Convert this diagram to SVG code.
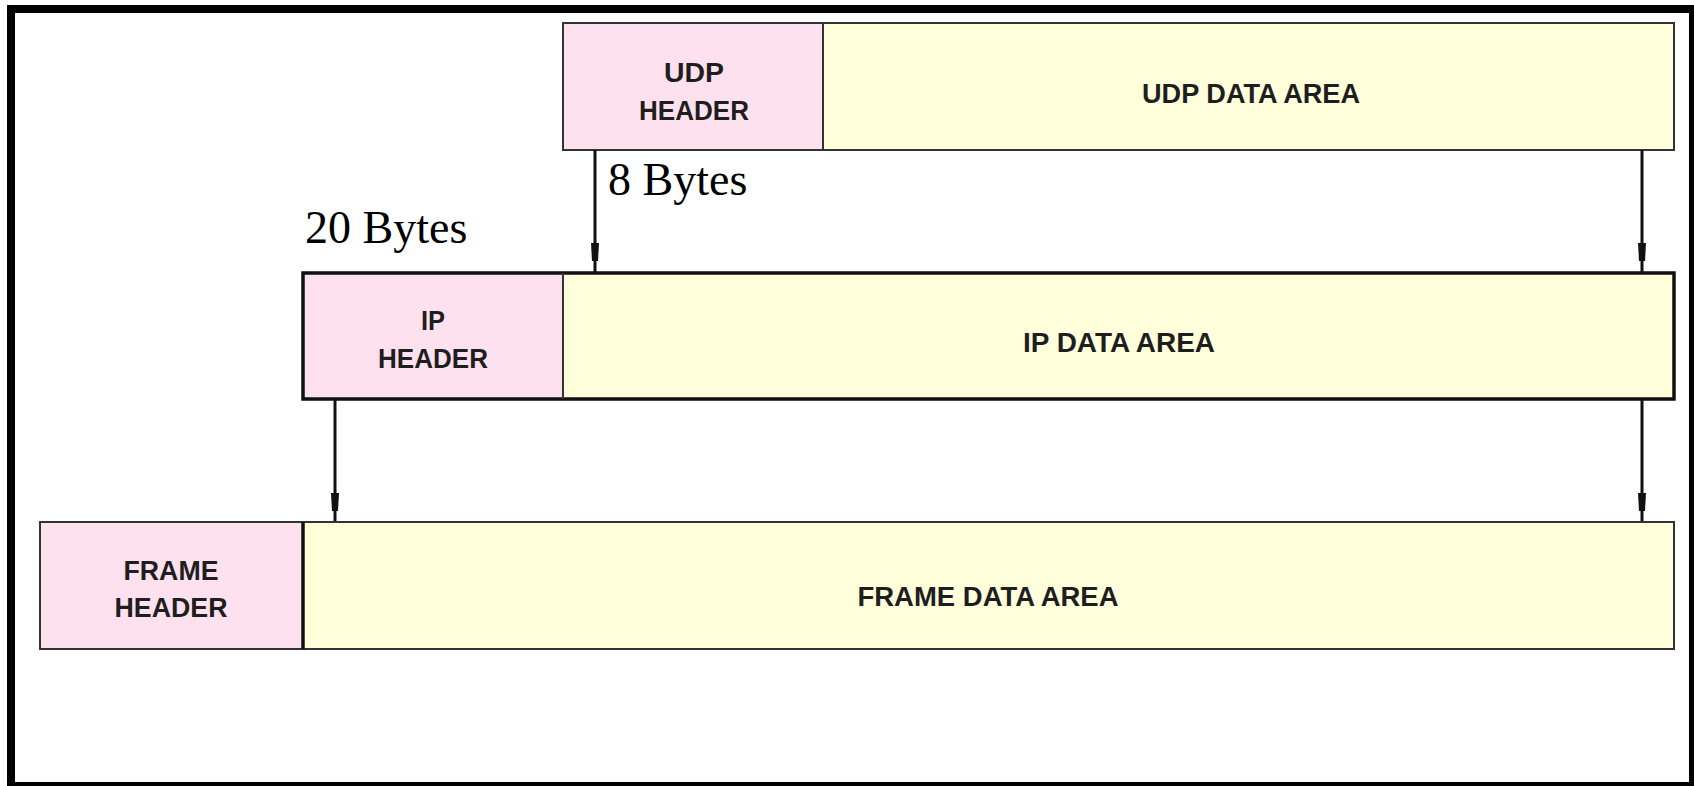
<svg xmlns="http://www.w3.org/2000/svg" width="1694" height="786" viewBox="0 0 1694 786">
<style>
.hdr{fill:#fde1ee}
.dat{fill:#ffffdc}
.thin{stroke:#333;stroke-width:2;fill:none}
.thick{stroke:#111;stroke-width:3.5;fill:none}
.lbl{font-family:"Liberation Sans",Arial,sans-serif;font-weight:bold;font-size:27px;fill:#1e1e1e;text-anchor:middle}
.bytes{font-family:"Liberation Serif","Times New Roman",serif;font-size:46px;fill:#000}
.conn line{stroke:#111;stroke-width:3}
.conn polygon{fill:#111}
</style>
<rect x="0" y="0" width="1694" height="786" fill="#fff"/>
<rect x="11" y="9" width="1682" height="777" fill="none" stroke="#000" stroke-width="8"/>

<g id="udp">
  <rect class="hdr" x="563" y="23" width="260" height="127"/>
  <rect class="dat" x="823" y="23" width="851" height="127"/>
  <rect class="thin" x="563" y="23" width="1111" height="127"/>
  <line class="thin" x1="823" y1="23" x2="823" y2="150"/>
  <text class="lbl" x="694" y="82" textLength="60" lengthAdjust="spacingAndGlyphs">UDP</text>
  <text class="lbl" x="694" y="120" textLength="110" lengthAdjust="spacingAndGlyphs">HEADER</text>
  <text class="lbl" x="1251" y="103" textLength="218" lengthAdjust="spacingAndGlyphs">UDP DATA AREA</text>
</g>

<g id="ip">
  <rect class="hdr" x="303" y="273" width="260" height="126"/>
  <rect class="dat" x="563" y="273" width="1111" height="126"/>
  <rect class="thick" x="303" y="273" width="1371" height="126"/>
  <line class="thin" x1="563" y1="273" x2="563" y2="399"/>
  <text class="lbl" x="433" y="330" textLength="24" lengthAdjust="spacingAndGlyphs">IP</text>
  <text class="lbl" x="433" y="368" textLength="110" lengthAdjust="spacingAndGlyphs">HEADER</text>
  <text class="lbl" x="1119" y="352" textLength="192" lengthAdjust="spacingAndGlyphs">IP DATA AREA</text>
</g>

<g id="frame">
  <rect class="hdr" x="40" y="522" width="263" height="127"/>
  <rect class="dat" x="303" y="522" width="1371" height="127"/>
  <rect class="thin" x="40" y="522" width="1634" height="127"/>
  <line class="thick" x1="303" y1="522" x2="303" y2="649"/>
  <text class="lbl" x="171" y="580" textLength="95" lengthAdjust="spacingAndGlyphs">FRAME</text>
  <text class="lbl" x="171" y="617" textLength="113" lengthAdjust="spacingAndGlyphs">HEADER</text>
  <text class="lbl" x="988" y="606" textLength="261" lengthAdjust="spacingAndGlyphs">FRAME DATA AREA</text>
</g>

<g id="label-8bytes"><text class="bytes" x="608" y="195">8 Bytes</text></g>
<g id="label-20bytes"><text class="bytes" x="305" y="243">20 Bytes</text></g>

<g id="connectors" class="conn">
  <line x1="595" y1="150" x2="595" y2="272"/>
  <polygon points="591,243 599,243 598,261 592,261"/>
  <line x1="1642" y1="150" x2="1642" y2="272"/>
  <polygon points="1638,243 1646,243 1645,261 1639,261"/>
  <line x1="335" y1="399" x2="335" y2="521"/>
  <polygon points="331,493 339,493 338,511 332,511"/>
  <line x1="1642" y1="399" x2="1642" y2="521"/>
  <polygon points="1638,493 1646,493 1645,511 1639,511"/>
</g>
</svg>
